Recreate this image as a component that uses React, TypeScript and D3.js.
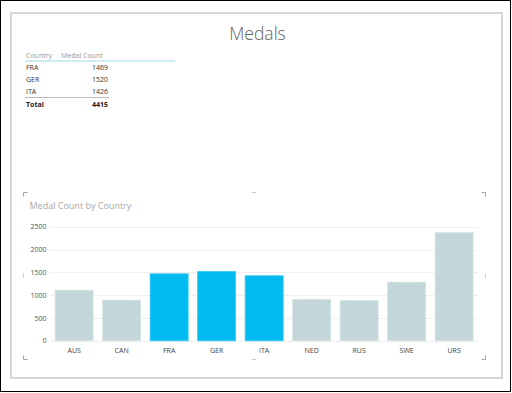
import React from "react";
import * as d3 from "d3";

const countries = ["AUS", "CAN", "FRA", "GER", "ITA", "NED", "RUS", "SWE", "URS"];
const medalCounts = [1110, 890, 1469, 1520, 1426, 910, 880, 1285, 2370];
const selectedCountries = ["FRA", "GER", "ITA"];
const yTicks = [0, 500, 1000, 1500, 2000, 2500];
const tableHeaders = ["Country", "Medal Count"];
const totalLabel = "Total";

const W = 512;
const H = 393;
const FONT = "'Open Sans', 'Noto Sans', sans-serif";

export default function App() {
  const x = d3.scaleBand<string>().domain(countries).range([50.4, 477.9]).paddingInner(0.2).paddingOuter(0.1);
  const y = d3.scaleLinear().domain([0, 2500]).range([340.8, 226.8]);

  const tableRows = countries
    .map((c, i) => ({ c, v: medalCounts[i] }))
    .filter((d) => selectedCountries.includes(d.c));
  const total = d3.sum(tableRows, (d) => d.v);
  const rowY = d3.scalePoint<number>().domain([0, 1, 2]).range([70, 93.5]);

  const cornerColor = "#a0a0a0";
  const L = 4;
  const cx0 = 23, cx1 = 485, cy0 = 192, cy1 = 359;
  const cxm = (cx0 + cx1) / 2, cym = (cy0 + cy1) / 2;

  return (
    <svg
      width={W}
      height={H}
      style={{ position: "absolute", left: 0, top: 0, background: "#fff" }}
      fontFamily={FONT}
    >
      <rect x={0.5} y={0.5} width={510} height={391} fill="#fff" stroke="#000" strokeWidth={1} />
      <rect x={11} y={13} width={491} height={365} fill="#fff" stroke="#d6d6d6" strokeWidth={2} />

      <text x={257.5} y={40} textAnchor="middle" fontSize={17.5} fontWeight={300} fill="#606060">
        Medals
      </text>

      {/* table */}
      <g fontSize={7}>
        <text x={26} y={57.5} fill="#999">{tableHeaders[0]}</text>
        <text x={61} y={57.5} fill="#999">{tableHeaders[1]}</text>
        <line x1={25} x2={175} y1={61} y2={61} stroke="#9fd8ea" strokeWidth={1} />
        {tableRows.map((d, i) => (
          <g key={d.c}>
            <text x={26} y={rowY(i)} fill="#333">{d.c}</text>
            <text x={108} y={rowY(i)} fill="#333" textAnchor="end">{d.v}</text>
          </g>
        ))}
        <line x1={25} x2={109} y1={97.5} y2={97.5} stroke="#bbb" strokeWidth={1} />
        <text x={26} y={106.5} fill="#222" fontWeight={700}>{totalLabel}</text>
        <text x={108} y={106.5} fill="#222" fontWeight={700} textAnchor="end">{total}</text>
      </g>

      {/* corner marks */}
      <g stroke={cornerColor} strokeWidth={1} fill="none">
        <path d={`M${cx0 + 0.5},${cy0 + L + 0.5}V${cy0 + 0.5}H${cx0 + L + 0.5}`} />
        <path d={`M${cx1 - L + 0.5},${cy0 + 0.5}H${cx1 + 0.5}V${cy0 + L + 0.5}`} />
        <path d={`M${cx0 + 0.5},${cy1 - L + 0.5}V${cy1 + 0.5}H${cx0 + L + 0.5}`} />
        <path d={`M${cx1 - L + 0.5},${cy1 + 0.5}H${cx1 + 0.5}V${cy1 - L + 0.5}`} />
        <path d={`M${cxm - 2},${cy0 + 0.5}H${cxm + 2}`} stroke="#c8c8c8" />
        <path d={`M${cxm - 2},${cy1 + 0.5}H${cxm + 2}`} stroke="#c8c8c8" />
        <path d={`M${cx0 + 0.5},${cym - 2}V${cym + 2}`} stroke="#c8c8c8" />
        <path d={`M${cx1 + 0.5},${cym - 2}V${cym + 2}`} stroke="#c8c8c8" />
      </g>

      <text x={29.5} y={208.5} fontSize={9} fill="#a8a8a8">
        Medal Count by Country
      </text>

      {/* grid + y axis */}
      <g>
        {yTicks.map((t) => (
          <g key={t}>
            <line x1={50.4} x2={477.9} y1={Math.round(y(t)) + 0.5} y2={Math.round(y(t)) + 0.5} stroke="#efefef" />
            <text x={46.5} y={y(t) + 2.5} fontSize={7} fill="#555" textAnchor="end">
              {t}
            </text>
          </g>
        ))}
      </g>

      {/* bars */}
      <g>
        {countries.map((c, i) => {
          const sel = selectedCountries.includes(c);
          return (
            <rect
              key={c}
              x={x(c)!}
              y={y(medalCounts[i])}
              width={x.bandwidth()}
              height={y(0) - y(medalCounts[i])}
              fill={sel ? "#00bbf0" : "#c3d6d9"}
              stroke={sel ? "#33c8f3" : "#d6e3e5"}
              strokeWidth={0.8}
            />
          );
        })}
      </g>

      {/* x axis labels */}
      <g>
        {countries.map((c) => (
          <text key={c} x={x(c)! + x.bandwidth() / 2} y={352.5} fontSize={7} fill="#444" textAnchor="middle">
            {c}
          </text>
        ))}
      </g>
    </svg>
  );
}
